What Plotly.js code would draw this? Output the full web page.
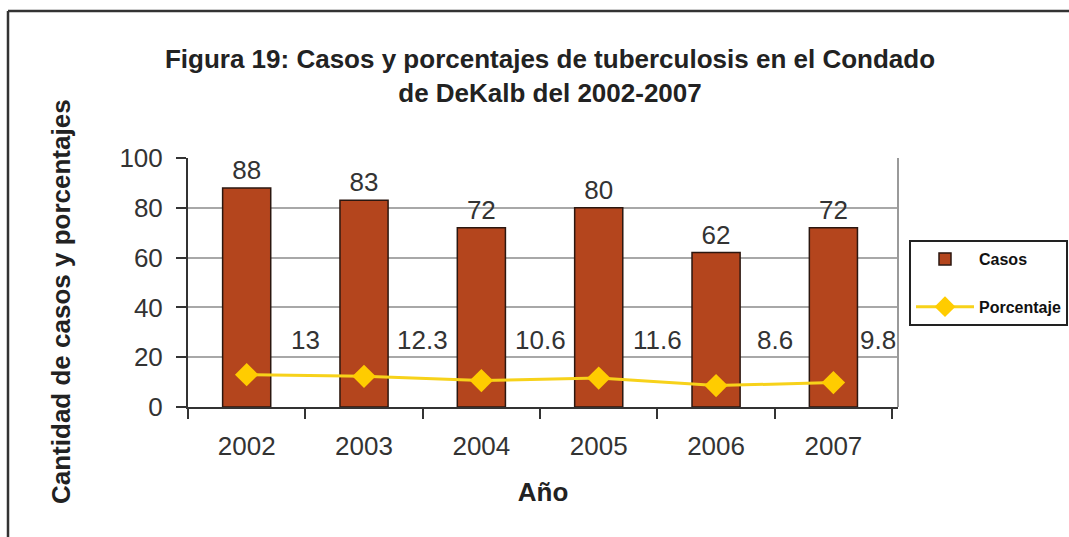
<!DOCTYPE html>
<html>
<head>
<meta charset="utf-8">
<script src="https://cdn.plot.ly/plotly-3.0.1.min.js"></script>
<style>html,body{margin:0;padding:0;background:#fff;}#chart{width:1069px;height:537px;}</style>
</head>
<body>
<div id="chart"></div>
<script>
var years = ['2002', '2003', '2004', '2005', '2006', '2007'];
var casos = [88, 83, 72, 80, 62, 72];
var porcentaje = [13, 12.3, 10.6, 11.6, 8.6, 9.8];
var yTicks = [0, 20, 40, 60, 80, 100];

var FONT = 'Liberation Sans, Arial, sans-serif';
var TXT = '#333333';

var traces = [
  {
    type: 'bar', name: 'Casos', x: years, y: casos,
    text: casos.map(String), textposition: 'outside', cliponaxis: false,
    textfont: {family: FONT, size: 26, color: TXT},
    marker: {color: '#B4451D', line: {color: '#2b1710', width: 1.5}},
    legendgroup: 'a'
  },
  {
    type: 'scatter', mode: 'lines+markers', name: 'Porcentaje', x: years, y: porcentaje,
    line: {color: '#F7D21A', width: 3},
    marker: {symbol: 'diamond', size: 18, color: '#FFCC00'},
    legendgroup: 'b', cliponaxis: false
  }
];

var ML = 188, MR = 171, MT = 158, MB = 130, W = 1069, H = 537;
var pw = W - ML - MR, ph = H - MT - MB;
function px(x) { return (x - ML) / pw; }
function py(y) { return (H - MB - y) / ph; }

var pctAnn = porcentaje.map(function (v, i) {
  return {
    x: i + (i === porcentaje.length - 1 ? 0.38 : 0.5), y: 27, xref: 'x', yref: 'y',
    text: String(v), showarrow: false, xanchor: 'center', yanchor: 'middle',
    font: {family: FONT, size: 26, color: TXT}
  };
});
pctAnn.push({
  xref: 'paper', yref: 'paper', x: px(61), y: py(302), textangle: -90,
  text: 'Cantidad de casos y porcentajes', showarrow: false, xanchor: 'center', yanchor: 'middle',
  font: {family: FONT, size: 26, color: '#222222', weight: 'bold'}
});

var layout = {
  width: W, height: H,
  margin: {l: ML, r: MR, t: MT, b: MB, pad: 0, autoexpand: false},
  paper_bgcolor: '#ffffff', plot_bgcolor: '#ffffff',
  showlegend: true,
  bargap: 0.59,
  title: {
    text: 'Figura 19: Casos y porcentajes de tuberculosis en el Condado<br>de DeKalb del 2002-2007',
    font: {family: FONT, size: 26, color: '#222222', weight: 'bold'},
    xref: 'container', yref: 'container', x: 550 / W, xanchor: 'center',
    y: 1 - 68 / H, yanchor: 'top'
  },
  xaxis: {
    type: 'category', tickson: 'boundaries', ticks: 'outside', ticklen: 10, tickwidth: 2, tickcolor: '#333',
    showline: true, linecolor: '#333', linewidth: 2, showgrid: false,
    tickfont: {family: FONT, size: 26, color: TXT}, ticklabelstandoff: 15,
    title: {text: 'Año', font: {family: FONT, size: 26, color: '#222222', weight: 'bold'}, standoff: 23}
  },
  yaxis: {
    range: [0, 100], tickvals: yTicks, ticks: 'outside', ticklen: 10, tickwidth: 2, tickcolor: '#333',
    showline: true, linecolor: '#333', linewidth: 2, zeroline: false,
    showgrid: true, gridcolor: '#a8a8a8', gridwidth: 2,
    tickfont: {family: FONT, size: 26, color: TXT}, ticklabelstandoff: 8
  },
  legend: {
    x: px(1068), xanchor: 'right', y: py(240), yanchor: 'top',
    bordercolor: '#222', borderwidth: 2, bgcolor: '#ffffff',
    font: {family: FONT, size: 16, color: '#111', weight: 'bold'},
    traceorder: 'grouped', tracegroupgap: 24, itemwidth: 58
  },
  annotations: pctAnn,
  shapes: [
    {type: 'line', xref: 'paper', yref: 'paper', x0: 1, x1: 1, y0: 0, y1: 1, line: {color: '#9a9a9a', width: 2}},
    {type: 'line', xref: 'paper', yref: 'paper', x0: px(8), x1: px(8), y0: py(11), y1: py(540), line: {color: '#333', width: 2.5}},
    {type: 'line', xref: 'paper', yref: 'paper', x0: px(8), x1: px(1075), y0: py(11), y1: py(11), line: {color: '#333', width: 2.5}}
  ]
};

Plotly.newPlot('chart', traces, layout, {displayModeBar: false, staticPlot: true});
</script>
</body>
</html>
